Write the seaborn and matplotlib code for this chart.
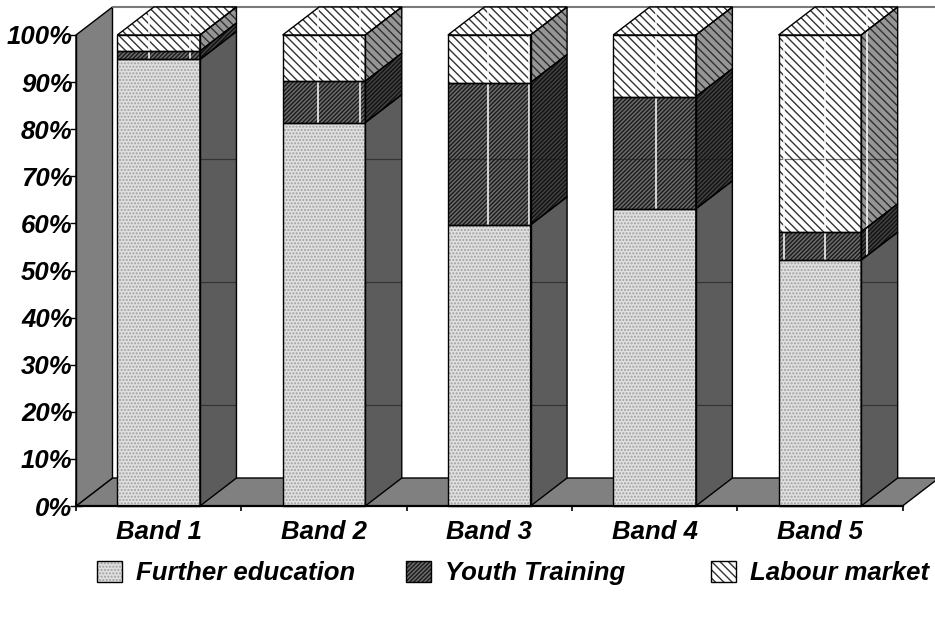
import numpy as np
import pandas as pd
import matplotlib
matplotlib.use("Agg")
import matplotlib.pyplot as plt
import seaborn as sns
from matplotlib.patches import Polygon, Patch

# ---- data -------------------------------------------------------------
bands = ["Band 1", "Band 2", "Band 3", "Band 4", "Band 5"]
further_education = [94.8, 81.4, 59.7, 63.1, 52.2]
youth_training = [1.8, 8.8, 30.2, 23.8, 6.0]
labour_market = [3.4, 9.8, 10.1, 13.1, 41.8]
series_names = ["Further education", "Youth Training", "Labour market"]
y_ticks = list(range(0, 101, 10))
y_tick_labels = [f"{t}%" for t in y_ticks]

# ---- style ------------------------------------------------------------
sns.set_theme(style="white")
plt.rcParams["font.family"] = ["Liberation Sans", "DejaVu Sans"]
plt.rcParams["font.style"] = "italic"
plt.rcParams["font.weight"] = "bold"
plt.rcParams["text.color"] = "black"
plt.rcParams["xtick.color"] = "black"
plt.rcParams["ytick.color"] = "black"
plt.rcParams["xtick.labelcolor"] = "black"
plt.rcParams["ytick.labelcolor"] = "black"
plt.rcParams["hatch.linewidth"] = 1.0
FS = 18.5

styles = {
    "Further education": dict(front="#e0e0e0", fhatch=".....", fhc="#a0a0a0",
                              side="#5c5c5c", shatch="", shc="#5c5c5c"),
    "Youth Training": dict(front="#6c6c6c", fhatch="////////", fhc="#1a1a1a",
                           side="#424242", shatch="////////", shc="#111111"),
    "Labour market": dict(front="#ffffff", fhatch="\\\\\\\\", fhc="#333333",
                          side="#969696", shatch="\\\\\\\\", shc="#303030"),
}
WALL = "#808080"

# ---- figure / axes ----------------------------------------------------
W, H = 935, 618
fig = plt.figure(figsize=(W / 100, H / 100), dpi=100)
left_px, bottom_px, top_px = 76, 506, 7
slot_px, unit_px = 165.3, 4.71
ax = fig.add_axes([left_px / W, (H - bottom_px) / H,
                   (W - left_px) / W, (bottom_px - top_px) / H])
ax.set_facecolor("white")

# depth of the 3-D box (data units)
DX = 36.5 / slot_px
DY = 28.0 / unit_px
n = len(bands)
x_lo, x_hi = -0.5, n - 0.5

# floor and left wall
floor = Polygon([(x_lo, 0), (x_hi, 0), (x_hi + DX, DY), (x_lo + DX, DY)],
                closed=True, fc=WALL, ec="black", lw=1.0, zorder=1, clip_on=False)
ax.add_patch(floor)
lwall = Polygon([(x_lo, 0), (x_lo + DX, DY), (x_lo + DX, 100 + DY), (x_lo, 100)],
                closed=True, fc=WALL, ec="black", lw=1.0, zorder=1, clip_on=False)
ax.add_patch(lwall)
ax.plot([x_lo + DX, x_hi + DX], [100 + DY, 100 + DY], color="#7a7a7a", lw=1.5,
        zorder=1, clip_on=False)

# ---- stacked bars (front faces via seaborn) ---------------------------
bottom = np.zeros(n)
faces = []  # (series, front, side, top)
for name, vals in zip(series_names, [further_education, youth_training, labour_market]):
    st = styles[name]
    df = pd.DataFrame({"band": bands, "share": vals})
    k = len(ax.patches)
    sns.barplot(data=df, x="band", y="share", order=bands, bottom=bottom,
                width=0.5, color=st["front"], saturation=1, errorbar=None,
                hatch=st["fhatch"], edgecolor=st["fhc"], linewidth=0,
                zorder=3, ax=ax)
    fronts = ax.patches[k:]
    for p in fronts:
        x0, w = p.get_x(), p.get_width()
        b, h = p.get_y(), p.get_height()
        x1, t = x0 + w, b + h
        side_pts = [(x1, b), (x1 + DX, b + DY), (x1 + DX, t + DY), (x1, t)]
        side = Polygon(side_pts, closed=True, fc=st["side"], ec=st["shc"],
                       hatch=st["shatch"], lw=0, zorder=2, clip_on=False)
        ax.add_patch(side)
        ax.add_patch(Polygon(side_pts, closed=True, fill=False, ec="black",
                             lw=1.0, zorder=4, clip_on=False))
        ax.add_patch(Polygon([(x0, b), (x1, b), (x1, t), (x0, t)], closed=True,
                             fill=False, ec="black", lw=1.0, zorder=4, clip_on=False))
        top = None
        if name == series_names[-1]:
            top_pts = [(x0, t), (x1, t), (x1 + DX, t + DY), (x0 + DX, t + DY)]
            top = Polygon(top_pts, closed=True, fc=st["front"], ec=st["fhc"],
                          hatch=st["fhatch"], lw=0, zorder=3, clip_on=False)
            ax.add_patch(top)
            ax.add_patch(Polygon(top_pts, closed=True, fill=False, ec="black",
                                 lw=1.0, zorder=4, clip_on=False))
        faces.append((name, p, side, top))
    bottom = bottom + np.array(vals)

# pattern tile seams on the hatched faces
seam_cols = [-0.058, 0.190, 0.964, 1.216, 1.992, 2.240, 3.009, 3.783, 4.031, 4.283]
seam_rows = [73.7, 47.6, 21.4]
for name, front, side, top in faces:
    shapes = [side] if name == series_names[0] else [front, side, top]
    for shp in shapes:
        if shp is None:
            continue
        if name != series_names[0]:
            for sx in seam_cols:
                ln, = ax.plot([sx, sx], [0, 100 + DY], color="white", lw=1.1,
                              zorder=3.5)
                ln.set_clip_path(shp)
        for sy in seam_rows:
            ln, = ax.plot([x_lo, x_hi + DX], [sy, sy], color="#1a1a1a", lw=0.9,
                          alpha=0.6, zorder=3.4)
            ln.set_clip_path(shp)

# ---- axes cosmetics ---------------------------------------------------
ax.set_xlim(x_lo, x_lo + (W - left_px) / slot_px)
ax.set_ylim(0, (bottom_px - top_px) / unit_px)
ax.set_xlabel("")
ax.set_ylabel("")
for s in ["top", "right"]:
    ax.spines[s].set_visible(False)
ax.spines["left"].set_bounds(0, 100)
ax.spines["left"].set_color("black")
ax.spines["left"].set_linewidth(1.0)
ax.spines["left"].set_zorder(5)
ax.spines["bottom"].set_bounds(x_lo, x_hi)
ax.spines["bottom"].set_color("black")
ax.spines["bottom"].set_linewidth(1.6)
ax.spines["bottom"].set_zorder(5)

ax.set_yticks(y_ticks, y_tick_labels)
ax.set_xticks(range(n), bands)
ax.set_xticks(np.arange(x_lo, x_hi + 0.01, 1.0), minor=True)
ax.tick_params(axis="y", which="major", direction="inout", length=8, width=1.0,
               color="black", labelcolor="black", pad=-1.6, labelsize=FS, left=True)
ax.tick_params(axis="x", which="major", length=0, pad=10.0, labelsize=FS,
               labelcolor="black")
ax.tick_params(axis="x", which="minor", direction="inout", length=7.5, width=1.2,
               color="black", bottom=True)
ax.grid(False)

# ---- legend -----------------------------------------------------------
leg_x = [97, 406, 711]
for name, lx in zip(series_names, leg_x):
    st = styles[name]
    fill = Patch(facecolor=st["front"], edgecolor=st["fhc"], hatch=st["fhatch"], lw=0)
    edge = Patch(facecolor="none", edgecolor="black", lw=1.0)
    fig.legend([(fill, edge)], [name], loc="center left",
               bbox_to_anchor=(lx / W, 1 - 573 / H), frameon=False,
               fontsize=FS, handlelength=0.97, handleheight=0.9,
               handletextpad=0.55, borderpad=0, borderaxespad=0,
               labelcolor="black")

fig.savefig("out.png", dpi=100, facecolor="white")
